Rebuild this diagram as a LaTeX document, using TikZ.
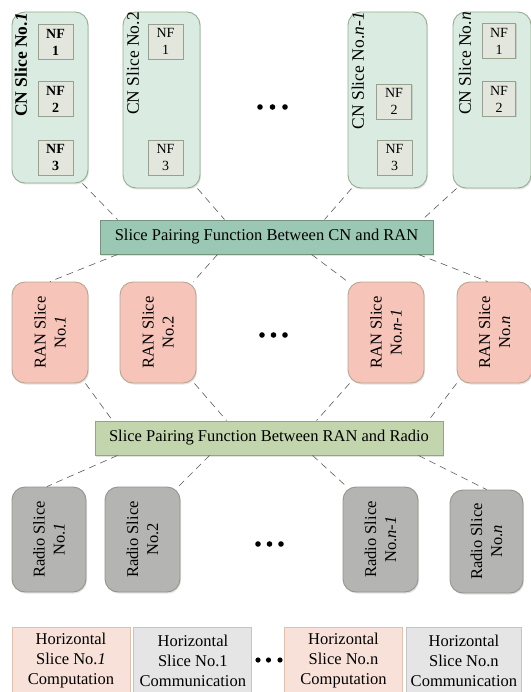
\documentclass[tikz,border=0pt]{standalone}
\usepackage{fontspec}
\setmainfont{Liberation Serif}
\usepackage{tikz}
\usetikzlibrary{calc, positioning, shadows}

\definecolor{cnfill}{RGB}{218,236,226}
\definecolor{cnline}{RGB}{150,172,146}
\definecolor{nffill}{RGB}{226,230,220}
\definecolor{nfline}{RGB}{150,160,140}
\definecolor{pairone}{RGB}{155,200,180}
\definecolor{paironeline}{RGB}{118,148,124}
\definecolor{pairtwo}{RGB}{195,213,172}
\definecolor{pairtwoline}{RGB}{150,162,140}
\definecolor{ranfill}{RGB}{246,196,184}
\definecolor{ranline}{RGB}{185,165,145}
\definecolor{radiofill}{RGB}{180,180,178}
\definecolor{radioline}{RGB}{148,148,138}
\definecolor{compfill}{RGB}{248,225,216}
\definecolor{compline}{RGB}{238,190,152}
\definecolor{commfill}{RGB}{229,229,229}
\definecolor{commline}{RGB}{196,196,196}

\begin{document}
\begin{tikzpicture}[x=1pt,y=-1pt,
        every node/.style={font=\fontsize{16.5}{20}\selectfont},
        slicebox/.style={rounded corners=13pt, line width=0.9pt, inner sep=0pt,
            drop shadow={opacity=0.22, shadow xshift=1pt, shadow yshift=-1.5pt}},
        cnslice/.style={slicebox, draw=cnline, fill=cnfill},
        ranslice/.style={slicebox, draw=ranline, fill=ranfill},
        radioslice/.style={slicebox, draw=radioline, fill=radiofill},
        nfbox/.style={draw=nfline, fill=nffill, line width=0.8pt, minimum width=35pt,
            minimum height=35pt, inner sep=0pt, align=center,
            font=\fontsize{14}{17}\selectfont,
            drop shadow={opacity=0.25, shadow xshift=1pt, shadow yshift=-1pt}},
        cnlabel/.style={rotate=90, anchor=east, inner sep=0pt, font=\fontsize{17.5}{20}\selectfont},
        slicelabel/.style={rotate=90, align=center},
        pairbox/.style={line width=0.9pt, minimum height=34pt, inner sep=0pt,
            drop shadow={opacity=0.22, shadow xshift=1pt, shadow yshift=-1.5pt}},
        hbox/.style={line width=0.9pt, minimum width=118pt, minimum height=68pt,
            inner sep=0pt, align=center},
        link/.style={dashed, dash pattern=on 7pt off 5pt, draw=black!65, line width=0.6pt}]
    \useasboundingbox (0,0) rectangle (530,692);

    % core network slices
    \node[cnslice, minimum width=76pt, minimum height=171pt] (cn1) at (50,97.5) {};
    \node[cnslice, minimum width=77pt, minimum height=176pt] (cn2) at (161.5,100) {};
    \node[cnslice, minimum width=79pt, minimum height=176pt] (cn3) at (387.5,100) {};
    \node[cnslice, minimum width=78pt, minimum height=176pt] (cn4) at (492,100) {};
    \node[cnlabel] (cnlab1) at (21,13) {\textbf{CN Slice No.\textit{1}}};
    \node[cnlabel] (cnlab2) at (133,12) {CN Slice No.2};
    \node[cnlabel] (cnlab3) at (358,12) {CN Slice No.\textit{n-1}};
    \node[cnlabel] (cnlab4) at (465,12) {CN Slice No.\textit{n}};

    \node[nfbox] (nf11) at (55.5,42) {\textbf{NF}\\\textbf{1}};
    \node[nfbox] (nf12) at (55.5,99) {\textbf{NF}\\\textbf{2}};
    \node[nfbox] (nf13) at (55.5,157.5) {\textbf{NF}\\\textbf{3}};
    \node[nfbox] (nf21) at (165.5,41.5) {NF\\1};
    \node[nfbox] (nf23) at (165.5,157.5) {NF\\3};
    \node[nfbox] (nf32) at (394,101.5) {NF\\2};
    \node[nfbox] (nf33) at (394.5,157.5) {NF\\3};
    \node[nfbox, minimum width=33pt] (nf41) at (499,41) {NF\\1};
    \node[nfbox, minimum width=33pt] (nf42) at (499,99) {NF\\2};

    \foreach \x in {260,272.5,285} \fill (\x,107) circle (2.8pt);

    % pairing CN -- RAN
    \node[pairbox, draw=paironeline, fill=pairone, minimum width=333pt] (pairA) at (266.5,237)
        {Slice Pairing Function Between CN and RAN};

    % RAN slices
    \node[ranslice, minimum width=76pt, minimum height=101pt] (ran1) at (50,332.5) {};
    \node[ranslice, minimum width=76pt, minimum height=101pt] (ran2) at (158,332.5) {};
    \node[ranslice, minimum width=76pt, minimum height=101pt] (ran3) at (386,332.5) {};
    \node[ranslice, minimum width=75pt, minimum height=101pt] (ran4) at (494.5,332.5) {};
    \node[slicelabel] (ranlab1) at (ran1) {RAN Slice\\No.\textit{1}};
    \node[slicelabel] (ranlab2) at (ran2) {RAN Slice\\No.2};
    \node[slicelabel] (ranlab3) at (ran3) {RAN Slice\\No.\textit{n-1}};
    \node[slicelabel] (ranlab4) at (ran4) {RAN Slice\\No.\textit{n}};
    \foreach \x in {262,273.5,285} \fill (\x,335) circle (2.8pt);

    % pairing RAN -- Radio
    \node[pairbox, draw=pairtwoline, fill=pairtwo, minimum width=348pt] (pairB) at (269,438)
        {Slice Pairing Function Between RAN and Radio};

    % radio slices
    \node[radioslice, minimum width=74pt, minimum height=105pt] (radio1) at (49,539.5) {};
    \node[radioslice, minimum width=75pt, minimum height=105pt] (radio2) at (142.5,539.5) {};
    \node[radioslice, minimum width=75pt, minimum height=105pt] (radio3) at (380.5,539.5) {};
    \node[radioslice, minimum width=73pt, minimum height=103pt] (radio4) at (486.5,541.5) {};
    \node[slicelabel] (radiolab1) at (radio1) {Radio Slice\\No.\textit{1}};
    \node[slicelabel] (radiolab2) at (radio2) {Radio Slice\\No.2};
    \node[slicelabel] (radiolab3) at (radio3) {Radio Slice\\No.\textit{n-1}};
    \node[slicelabel] (radiolab4) at (radio4) {Radio Slice\\No.\textit{n}};
    \foreach \x in {258,269.5,281} \fill (\x,544) circle (2.8pt);

    % dashed pairings
    \draw[link] ([xshift=-6pt]cn1.south east) -- ([xshift=18pt]pairA.north west);
    \draw[link] ([xshift=-3pt]cn2.south east) -- ([xshift=125pt]pairA.north west);
    \draw[link] ([xshift=4pt]cn3.south west) -- ([xshift=225pt]pairA.north west);
    \draw[link] ([xshift=4pt]cn4.south west) -- ([xshift=-11pt]pairA.north east);

    \draw[link] ([xshift=18pt]pairA.south west) -- (ran1.north);
    \draw[link] ([xshift=118pt]pairA.south west) -- ([xshift=-3pt]ran2.north east);
    \draw[link] ([xshift=212pt]pairA.south west) -- (ran3.north west);
    \draw[link] ([xshift=-15pt]pairA.south east) -- ([xshift=-7pt]ran4.north);

    \draw[link] ([xshift=-3pt]ran1.south east) -- ([xshift=18pt]pairB.north west);
    \draw[link] ([xshift=-2pt]ran2.south east) -- ([xshift=132pt]pairB.north west);
    \draw[link] ([xshift=2pt]ran3.south west) -- ([xshift=222pt]pairB.north west);
    \draw[link] (ran4.south west) -- ([xshift=-15pt]pairB.north east);

    \draw[link] ([xshift=23pt]pairB.south west) -- ([xshift=-2pt]radio1.north);
    \draw[link] ([xshift=115pt]pairB.south west) -- ([xshift=-2pt]radio2.north east);
    \draw[link] ([xshift=218pt]pairB.south west) -- ([xshift=4pt]radio3.north west);
    \draw[link] ([xshift=-25pt]pairB.south east) -- (radio4.north);

    % horizontal slices
    \node[hbox, draw=compline, fill=compfill] (hor1) at (71,661) {Horizontal\\Slice No.\textit{1}\\Computation};
    \node[hbox, draw=commline, fill=commfill, right=3pt of hor1] (hor2) {Horizontal\\Slice No.1\\Communication};
    \node[hbox, draw=compline, fill=compfill] (hor3) at (343.5,661) {Horizontal\\Slice No.n\\Computation};
    \node[hbox, draw=commline, fill=commfill, right=3pt of hor3, minimum width=115pt] (hor4) {Horizontal\\Slice No.n\\Communication};
    \foreach \x in {258,268.5,280} \fill (\x,660) circle (2.6pt);
\end{tikzpicture}
\end{document}
